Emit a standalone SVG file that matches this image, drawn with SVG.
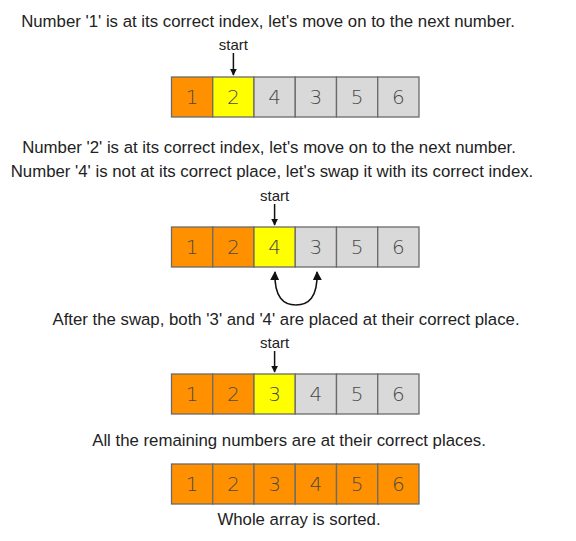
<svg xmlns="http://www.w3.org/2000/svg" width="576" height="541" viewBox="0 0 576 541">
<defs>
<style>
.t{font-family:"Liberation Sans",Arial,sans-serif;font-size:16.8px;fill:#222;text-anchor:middle}
.s{font-family:"Liberation Sans",Arial,sans-serif;font-size:15px;fill:#222;text-anchor:middle}
.n{font-family:"DejaVu Sans","Liberation Sans",sans-serif;font-weight:300;font-size:20px;fill:#4a4a4a;text-anchor:middle}
.o{fill:#FF9100;stroke:#6b6b6b;stroke-width:1.3}
.y{fill:#FFFF00;stroke:#6b6b6b;stroke-width:1.3}
.g{fill:#D9D9D9;stroke:#6b6b6b;stroke-width:1.3}
.a{stroke:#111;stroke-width:1.5;fill:none}
</style>
<marker id="ah" viewBox="0 0 10 10" refX="9" refY="5" markerWidth="7" markerHeight="7" orient="auto" markerUnits="userSpaceOnUse">
<path d="M0,0 L10,5 L0,10 Z" fill="#111"/>
</marker>
<marker id="ah2" viewBox="0 0 10 10" refX="9" refY="5" markerWidth="9" markerHeight="9" orient="auto" markerUnits="userSpaceOnUse">
<path d="M0,0 L10,5 L0,10 Z" fill="#111"/>
</marker>
</defs>
<rect width="576" height="541" fill="#fff"/>

<g id="texts">
<text class="t" x="268" y="27">Number '1' is at its correct index, let's move on to the next number.</text>
<text class="t" x="269" y="153">Number '2' is at its correct index, let's move on to the next number.</text>
<text class="t" x="272" y="177">Number '4' is not at its correct place, let's swap it with its correct index.</text>
<text class="t" x="286" y="325">After the swap, both '3' and '4' are placed at their correct place.</text>
<text class="t" x="289" y="446">All the remaining numbers are at their correct places.</text>
<text class="t" x="299" y="525">Whole array is sorted.</text>
</g>

<g id="row1">
<rect class="o" x="171.5" y="77" width="41.25" height="40"/>
<rect class="y" x="212.75" y="77" width="41.25" height="40"/>
<rect class="g" x="254" y="77" width="41.25" height="40"/>
<rect class="g" x="295.25" y="77" width="41.25" height="40"/>
<rect class="g" x="336.5" y="77" width="41.25" height="40"/>
<rect class="g" x="377.75" y="77" width="41.25" height="40"/>
<text class="n" x="192.1" y="104">1</text>
<text class="n" x="233.4" y="104">2</text>
<text class="n" x="274.6" y="104">4</text>
<text class="n" x="315.9" y="104">3</text>
<text class="n" x="357.1" y="104">5</text>
<text class="n" x="398.4" y="104">6</text>
<text class="s" x="233.4" y="50">start</text>
</g>

<g id="row2">
<rect class="o" x="171.5" y="227" width="41.25" height="40"/>
<rect class="o" x="212.75" y="227" width="41.25" height="40"/>
<rect class="y" x="254" y="227" width="41.25" height="40"/>
<rect class="g" x="295.25" y="227" width="41.25" height="40"/>
<rect class="g" x="336.5" y="227" width="41.25" height="40"/>
<rect class="g" x="377.75" y="227" width="41.25" height="40"/>
<text class="n" x="192.1" y="254">1</text>
<text class="n" x="233.4" y="254">2</text>
<text class="n" x="274.6" y="254">4</text>
<text class="n" x="315.9" y="254">3</text>
<text class="n" x="357.1" y="254">5</text>
<text class="n" x="398.4" y="254">6</text>
<text class="s" x="274.6" y="201">start</text>
</g>

<g id="row3">
<rect class="o" x="171.5" y="374" width="41.25" height="40"/>
<rect class="o" x="212.75" y="374" width="41.25" height="40"/>
<rect class="y" x="254" y="374" width="41.25" height="40"/>
<rect class="g" x="295.25" y="374" width="41.25" height="40"/>
<rect class="g" x="336.5" y="374" width="41.25" height="40"/>
<rect class="g" x="377.75" y="374" width="41.25" height="40"/>
<text class="n" x="192.1" y="401">1</text>
<text class="n" x="233.4" y="401">2</text>
<text class="n" x="274.6" y="401">3</text>
<text class="n" x="315.9" y="401">4</text>
<text class="n" x="357.1" y="401">5</text>
<text class="n" x="398.4" y="401">6</text>
<text class="s" x="274.6" y="348">start</text>
</g>

<g id="row4">
<rect class="o" x="171.5" y="464" width="41.25" height="40"/>
<rect class="o" x="212.75" y="464" width="41.25" height="40"/>
<rect class="o" x="254" y="464" width="41.25" height="40"/>
<rect class="o" x="295.25" y="464" width="41.25" height="40"/>
<rect class="o" x="336.5" y="464" width="41.25" height="40"/>
<rect class="o" x="377.75" y="464" width="41.25" height="40"/>
<text class="n" x="192.1" y="491">1</text>
<text class="n" x="233.4" y="491">2</text>
<text class="n" x="274.6" y="491">3</text>
<text class="n" x="315.9" y="491">4</text>
<text class="n" x="357.1" y="491">5</text>
<text class="n" x="398.4" y="491">6</text>
</g>

<g id="connectors">
<line class="a" x1="233.4" y1="53" x2="233.4" y2="75" marker-end="url(#ah)"/>
<line class="a" x1="274.6" y1="204" x2="274.6" y2="225" marker-end="url(#ah)"/>
<line class="a" x1="274.6" y1="351" x2="274.6" y2="372" marker-end="url(#ah)"/>
<path class="a" d="M295.9,305 C284,305 274,298 275,272" marker-end="url(#ah2)"/>
<path class="a" d="M295.9,305 C308,305 318,298 317,272" marker-end="url(#ah2)"/>
</g>
</svg>
